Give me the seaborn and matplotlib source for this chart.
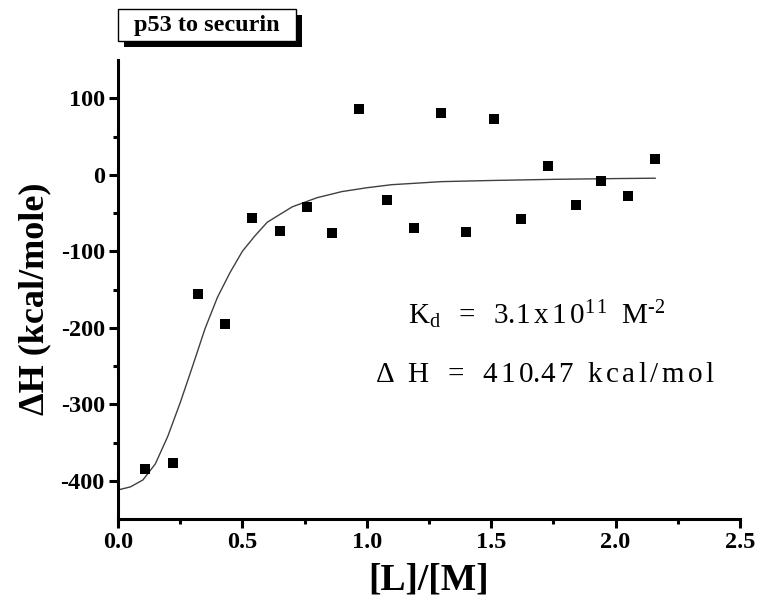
import matplotlib
matplotlib.use("Agg")
import matplotlib.pyplot as plt
from matplotlib.patches import Rectangle
import pandas as pd
import seaborn as sns

# Titration data: molar ratio vs. enthalpy change per injection
ratio = [0.11, 0.22, 0.32, 0.43, 0.54, 0.65, 0.76, 0.86, 0.97, 1.08,
         1.19, 1.30, 1.40, 1.51, 1.62, 1.73, 1.84, 1.94, 2.05, 2.16]
dH = [-385, -377, -156, -195, -56, -73, -42, -76, 86, -33,
      -69, 81, -75, 73, -58, 12, -39, -8, -28, 21]

# Fitted binding isotherm
fit_ratio = [0.00, 0.05, 0.10, 0.15, 0.20, 0.25, 0.30, 0.35, 0.40, 0.45,
             0.50, 0.55, 0.60, 0.70, 0.80, 0.90, 1.00, 1.10, 1.30, 1.50,
             1.75, 2.00, 2.16]
fit_dH = [-412, -408, -399, -378, -342, -298, -250, -201, -160, -128,
          -100, -80, -62, -42, -30, -22, -17, -13, -9, -7.5,
          -6, -5, -4.5]

x_ticks = [0.0, 0.5, 1.0, 1.5, 2.0, 2.5]
y_ticks = [-400, -300, -200, -100, 0, 100]
x_minor = [0.25, 0.75, 1.25, 1.75, 2.25]
y_minor = [-350, -250, -150, -50, 50]

sns.set_style("ticks")
plt.rcParams["font.family"] = ["Liberation Serif", "DejaVu Serif"]
plt.rcParams["mathtext.fontset"] = "custom"
plt.rcParams["mathtext.rm"] = "Liberation Serif"
plt.rcParams["mathtext.it"] = "Liberation Serif:italic"
for key in ("text.color", "axes.labelcolor", "xtick.color", "ytick.color",
            "axes.edgecolor"):
    plt.rcParams[key] = "black"

W, H = 759, 611
fig = plt.figure(figsize=(W / 100, H / 100), dpi=100)
ax = fig.add_axes([118 / W, 1 - 519 / H, 622 / W, (519 - 60) / H])

pts = pd.DataFrame({"ratio": ratio, "dH": dH})
fit = pd.DataFrame({"ratio": fit_ratio, "dH": fit_dH})

sns.lineplot(data=fit, x="ratio", y="dH", ax=ax, color="#404040",
             linewidth=1.0, sort=True, estimator=None)
sns.scatterplot(data=pts, x="ratio", y="dH", ax=ax, marker="s", s=55,
                color="black", edgecolor="black", linewidth=0, zorder=3)

ax.set_xlim(0, 2.5)
ax.set_ylim(-450, 150)
ax.set_xticks(x_ticks)
ax.set_xticklabels([f"{v:.1f}" for v in x_ticks])
ax.set_yticks(y_ticks)
ax.set_yticklabels([str(v) for v in y_ticks])
ax.set_xticks(x_minor, minor=True)
ax.set_yticks(y_minor, minor=True)

for side in ("top", "right"):
    ax.spines[side].set_visible(False)
for side in ("left", "bottom"):
    ax.spines[side].set_linewidth(2.2)

ax.tick_params(which="major", direction="out", length=6.5, width=2.2,
               pad=3, labelsize=17.5)
ax.tick_params(which="minor", direction="out", length=3.6, width=2.2)
for lab in ax.get_xticklabels() + ax.get_yticklabels():
    lab.set_fontweight("bold")

ax.set_xlabel("[L]/[M]", fontsize=27, fontweight="bold", va="center")
ax.xaxis.set_label_coords(0.5, -0.133)
ax.set_ylabel("ΔH (kcal/mole)", fontsize=26, fontweight="bold",
              va="center", ha="center")
ax.yaxis.set_label_coords(-0.133, 0.48)


def spaced(tokens, gap=0.17):
    """Join mathtext tokens with a small letter spacing."""
    return r"$\mathregular{" + (r"\hspace{%g}" % gap).join(tokens) + "}$"


kd_text = spaced(["K_d", r"\ ", "=", r"\ ", "3.1", "x", "1",
                  r"0^{1\hspace{0.1}1}", r"\ ", "M^{\u2010" + "2}"])
dh_text = spaced([r"\Delta", r"\ ", "H", r"\ ", "=", r"\ ", "4", "1", "0.4",
                  "7", r"\ ", "k", "c", "a", "l", "/", "m", "o", "l"])

# Fit results
ax.text(1.165, -194.7, kd_text, fontsize=21, ha="left", va="baseline")
ax.text(1.032, -270.4, dh_text, fontsize=21, ha="left", va="baseline")

# Title box with drop shadow
def px_rect(x0, y0, x1, y1, **kw):
    return Rectangle((x0 / W, 1 - y1 / H), (x1 - x0) / W, (y1 - y0) / H,
                     transform=fig.transFigure, **kw)

fig.add_artist(px_rect(124, 15, 302, 47, facecolor="black", edgecolor="none"))
fig.add_artist(px_rect(118, 9, 296, 41, facecolor="white", edgecolor="black",
                       linewidth=1.0))
fig.text(207 / W, 1 - 25 / H, "p53 to securin", fontsize=17.5,
         fontweight="bold", ha="center", va="center")

fig.savefig("out.png", dpi=100, facecolor="white")
